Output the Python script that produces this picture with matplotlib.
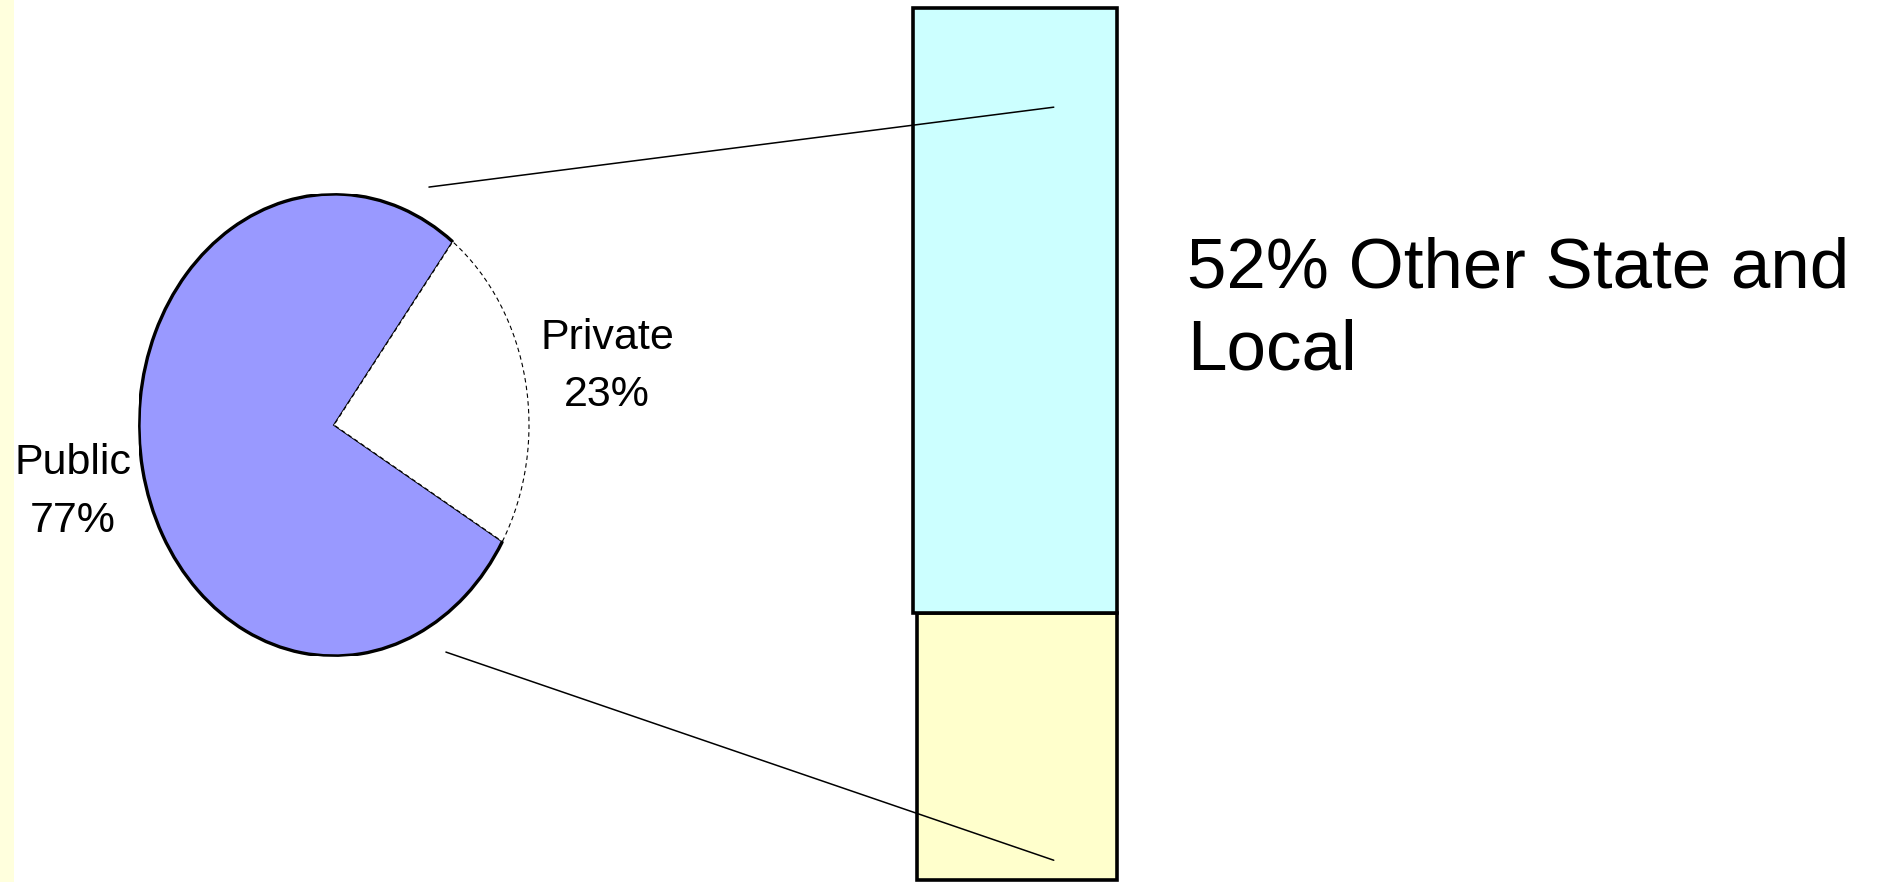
import matplotlib
matplotlib.use("Agg")
import matplotlib.pyplot as plt
from matplotlib.patches import Arc, Rectangle, ConnectionPatch

# ---- data ----
pie_labels = ["Public", "Private"]
pie_values = [77, 23]
bar_labels = ["Remaining public", "Other State and Local"]
bar_values = [23, 52]

FONT = ["Liberation Sans", "DejaVu Sans"]
plt.rcParams['font.family'] = FONT

W, H = 1884, 882
fig = plt.figure(figsize=(W / 100, H / 100), dpi=100)
fig.patch.set_facecolor("white")

# left decorative strip
fig.patches.append(Rectangle((0, 0), 14 / W, 1, transform=fig.transFigure,
                             facecolor="#FFFFDD", edgecolor="none", zorder=0))

# ---- pie (elliptical) ----
cx, cy, rx, ry = 334, 425, 195, 231
axp = fig.add_axes([(cx - rx) / W, (H - cy - ry) / H, 2 * rx / W, 2 * ry / H])
wedges, _ = axp.pie(pie_values, startangle=52.5, counterclock=True,
                    colors=["#9999FF", "white"],
                    wedgeprops=dict(linewidth=1.3, edgecolor="black"))
wedges[1].set_linestyle((0, (4, 3)))
wedges[1].set_linewidth(0.8)
axp.set_aspect("auto")
axp.set_xlim(-1, 1)
axp.set_ylim(-1, 1)
axp.axis("off")
# thick outer arc of the public slice
w0 = wedges[0]
axp.add_patch(Arc((0, 0), 2, 2, theta1=w0.theta1, theta2=w0.theta2,
                  linewidth=2.4, color="black", zorder=5))

axp.text(-1.34, -0.29, f"{pie_labels[0]}\n{pie_values[0]}%", ha="center", va="center",
         fontsize=31, linespacing=1.55, clip_on=False)
axp.text(1.4, 0.255, f"{pie_labels[1]}\n{pie_values[1]}%", ha="center", va="center",
         fontsize=31, linespacing=1.55, clip_on=False)

# ---- stacked bar ----
bx0, bx1 = 913, 1117
top_px, bot_px = 8.4, 880
axb = fig.add_axes([bx0 / W, (H - bot_px) / H, (bx1 - bx0) / W, (bot_px - top_px) / H])
bottom = 0
colors = ["#FFFFCC", "#CCFFFF"]
widths = [0.98, 1.0]
xs = [0.01, 0.0]
for v, c, wd, xx in zip(bar_values, colors, widths, xs):
    axb.bar(xx, v, bottom=bottom, width=wd, color=c, edgecolor="black",
            linewidth=2.6, clip_on=False)
    bottom += v
axb.set_xlim(-0.5, 0.5)
axb.set_ylim(0, sum(bar_values))
axb.axis("off")

axb.text(0.843, bar_values[0] + bar_values[1] / 2,
         f"{bar_values[1]}% {bar_labels[1]}".replace(" and ", " and\n"),
         ha="left", va="center", fontsize=51, linespacing=1.32, clip_on=False)

# ---- connector lines ----
for (px, py), (qx, qy) in [((0.487, 1.03), (0.19, 66.5)), ((0.574, -0.983), (0.19, 1.7))]:
    con = ConnectionPatch(xyA=(px, py), coordsA=axp.transData,
                          xyB=(qx, qy), coordsB=axb.transData,
                          color="black", linewidth=1.1, zorder=10)
    fig.add_artist(con)

fig.savefig("out.png", dpi=100)
